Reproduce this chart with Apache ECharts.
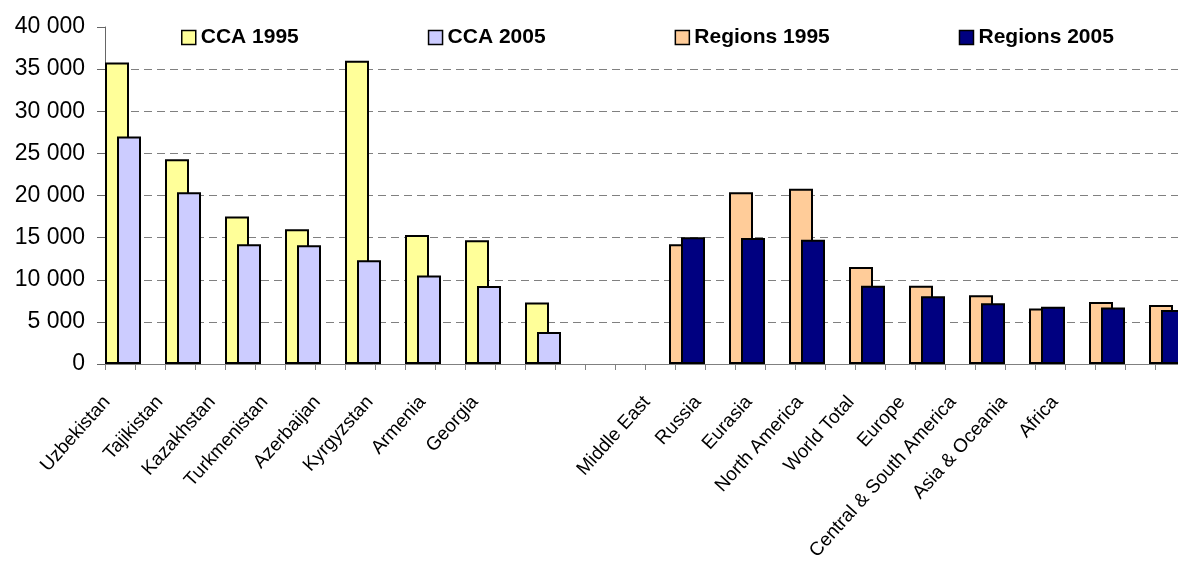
<!DOCTYPE html>
<html>
<head>
<meta charset="utf-8">
<script src="https://cdn.jsdelivr.net/npm/echarts@6/dist/echarts.min.js"></script>
<style>
  html, body { margin: 0; padding: 0; background: #fff; }
  #chart { width: 1178px; height: 562px; }
</style>
</head>
<body>
<div id="chart"></div>
<script>
  // categories
  const ccaNames = ['Uzbekistan', 'Tajikistan', 'Kazakhstan', 'Turkmenistan', 'Azerbaijan', 'Kyrgyzstan', 'Armenia', 'Georgia'];
  const regionNames = ['Middle East', 'Russia', 'Eurasia', 'North America', 'World Total', 'Europe', 'Central & South America', 'Asia & Oceania', 'Africa'];

  // values
  const cca1995 = [35800, 24300, 17500, 16000, 36000, 15300, 14700, 7300];
  const cca2005 = [27000, 20400, 14200, 14100, 12300, 10500, 9250, 3800];
  const regions1995 = [14200, 20400, 20800, 11500, 9300, 8150, 6600, 7350, 7000];
  const regions2005 = [15050, 14950, 14750, 9300, 8050, 7200, 6800, 6700, 6400];

  const yTicks = [0, 5000, 10000, 15000, 20000, 25000, 30000, 35000, 40000];

  // one empty slot between the two groups
  const categories = ccaNames.concat([''], regionNames);
  const blankRegions = regionNames.map(() => '-');
  const blankCca = ccaNames.map(() => '-');

  const fmt = v => String(v).replace(/\B(?=(\d{3})+(?!\d))/g, ' ');

  const border = { borderColor: '#000', borderWidth: 2 };
  const labelStyle = {
    rotate: 48, interval: 0, margin: 35,
    fontFamily: 'Liberation Sans, Arial, sans-serif', fontSize: 19, color: '#000'
  };

  const option = {
    animation: false,
    backgroundColor: '#fff',
    legend: {
      left: 176, top: 22,
      itemWidth: 14, itemHeight: 14, itemGap: 129,
      icon: 'rect',
      itemStyle: { borderColor: '#000', borderWidth: 1.5 },
      textStyle: { fontFamily: 'Liberation Sans, Arial, sans-serif', fontWeight: 'bold', fontSize: 21, color: '#000' },
      data: ['CCA 1995', 'CCA 2005', 'Regions 1995', 'Regions 2005']
    },
    grid: [
      { left: 105, top: 27, width: 1080, bottom: 198, outerBoundsMode: 'none' },
      { left: 80.7, width: 420.6, bottom: 198, height: 1, outerBoundsMode: 'none' },
      { left: 621.5, width: 459, bottom: 198, height: 1, outerBoundsMode: 'none' }
    ],
    xAxis: [
      {
        type: 'category', gridIndex: 0, data: categories,
        axisLine: { lineStyle: { color: '#808080', width: 1 } },
        axisTick: { show: false },
        axisLabel: { show: false }
      },
      {
        // half-category tick marks
        type: 'category', gridIndex: 0, position: 'bottom', offset: 0,
        data: categories.concat(categories).map(() => ''),
        axisLine: { show: false },
        axisTick: { show: true, interval: 0, length: 6, lineStyle: { color: '#808080' } },
        axisLabel: { show: false }
      },
      {
        type: 'category', gridIndex: 1, data: ccaNames,
        axisLine: { show: false }, axisTick: { show: false },
        axisLabel: labelStyle
      },
      {
        type: 'category', gridIndex: 2, data: regionNames,
        axisLine: { show: false }, axisTick: { show: false },
        axisLabel: labelStyle
      }
    ],
    yAxis: [
      {
        type: 'value', gridIndex: 0,
        min: yTicks[0], max: yTicks[yTicks.length - 1], interval: yTicks[1] - yTicks[0],
        axisLine: { show: true, lineStyle: { color: '#666', width: 1 } },
        axisTick: { show: true, length: 8, lineStyle: { color: '#666' } },
        axisLabel: {
          margin: 20, formatter: fmt,
          fontFamily: 'Liberation Sans, Arial, sans-serif', fontSize: 23, color: '#000'
        },
        splitLine: {
          show: true, showMinLine: false, showMaxLine: false,
          lineStyle: { color: '#808080', type: [8, 5], width: 1 }
        }
      },
      { type: 'value', gridIndex: 1, show: false },
      { type: 'value', gridIndex: 2, show: false }
    ],
    series: [
      {
        name: 'CCA 1995', type: 'bar', xAxisIndex: 0, yAxisIndex: 0,
        barWidth: 24, barGap: '-50%',
        itemStyle: Object.assign({ color: '#FFFF99' }, border),
        data: cca1995.concat(['-'], blankRegions)
      },
      {
        name: 'CCA 2005', type: 'bar', xAxisIndex: 0, yAxisIndex: 0,
        barWidth: 24, barGap: '-50%',
        itemStyle: Object.assign({ color: '#CCCCFF' }, border),
        data: cca2005.concat(['-'], blankRegions)
      },
      {
        name: 'Regions 1995', type: 'bar', xAxisIndex: 0, yAxisIndex: 0,
        barWidth: 24, barGap: '-50%',
        itemStyle: Object.assign({ color: '#FFCC99' }, border),
        data: blankCca.concat(['-'], regions1995)
      },
      {
        name: 'Regions 2005', type: 'bar', xAxisIndex: 0, yAxisIndex: 0,
        barWidth: 24, barGap: '-50%',
        itemStyle: Object.assign({ color: '#000080' }, border),
        data: blankCca.concat(['-'], regions2005)
      }
    ]
  };

  const chart = echarts.init(document.getElementById('chart'));
  chart.setOption(option);
</script>
</body>
</html>
